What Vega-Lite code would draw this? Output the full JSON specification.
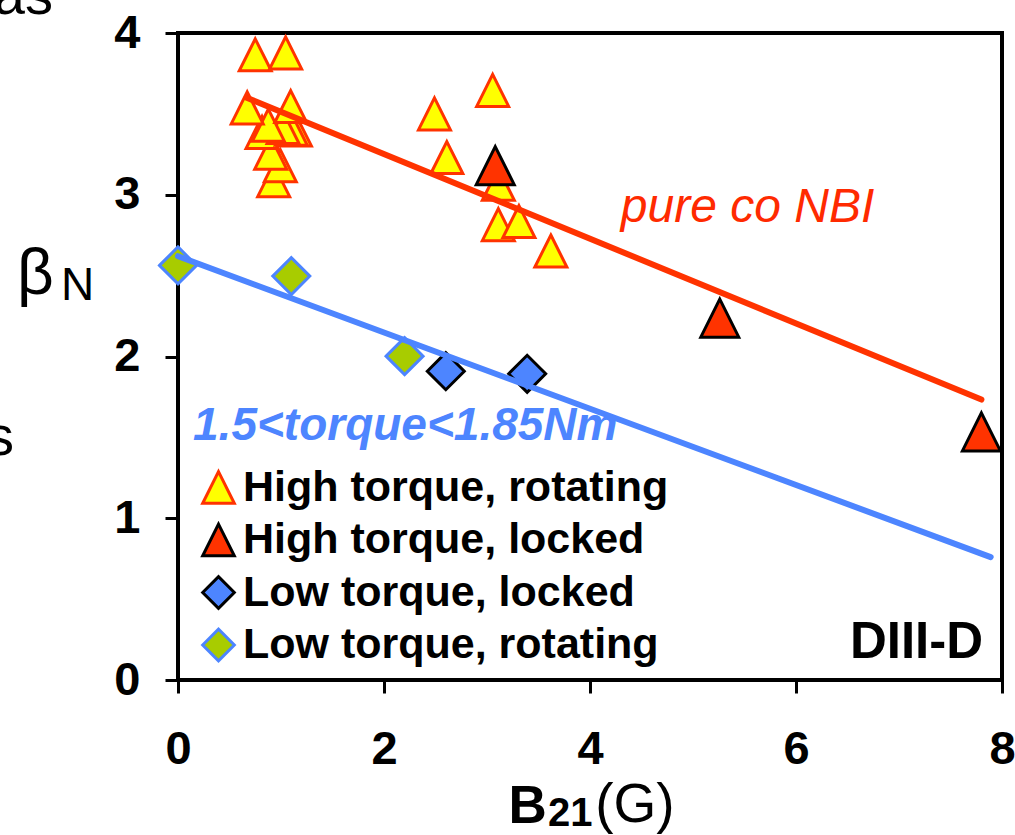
{
  "$schema": "https://vega.github.io/schema/vega-lite/v6.json",
  "width": 824,
  "height": 647,
  "autosize": {"type": "none"},
  "padding": {"left": 178, "top": 33, "right": 13, "bottom": 155},
  "background": "white",
  "config": {
    "font": "Liberation Sans",
    "view": {"stroke": "#000000", "strokeWidth": 4},
    "axis": {
      "grid": false,
      "domain": false,
      "ticks": true,
      "tickColor": "#000000",
      "tickWidth": 3,
      "tickSize": 13,
      "labelFlush": false,
      "labelFont": "Liberation Sans",
      "labelFontSize": 47,
      "labelFontWeight": "bold",
      "labelColor": "#000000",
      "titleFont": "Liberation Sans",
      "titleColor": "#000000"
    },
    "legend": {
      "orient": "none",
      "legendX": 19,
      "legendY": 433,
      "padding": 0,
      "labelFont": "Liberation Sans",
      "labelFontSize": 43,
      "labelFontWeight": "bold",
      "labelColor": "#000000",
      "labelOffset": 3,
      "rowPadding": 7.5,
      "symbolSize": 1000,
      "symbolStrokeWidth": 3,
      "symbolOpacity": 1,
      "labelLimit": 600
    }
  },
  "datasets": {
    "pts": [
      {"group": "High torque, rotating", "b21": 0.929, "betaN": 3.087},
      {"group": "High torque, rotating", "b21": 0.993, "betaN": 3.18},
      {"group": "High torque, rotating", "b21": 0.90, "betaN": 3.257},
      {"group": "High torque, rotating", "b21": 0.816, "betaN": 3.385},
      {"group": "High torque, rotating", "b21": 1.14, "betaN": 3.40},
      {"group": "High torque, rotating", "b21": 1.10, "betaN": 3.405},
      {"group": "High torque, rotating", "b21": 1.02, "betaN": 3.415},
      {"group": "High torque, rotating", "b21": 0.877, "betaN": 3.43},
      {"group": "High torque, rotating", "b21": 0.672, "betaN": 3.537},
      {"group": "High torque, rotating", "b21": 1.094, "betaN": 3.545},
      {"group": "High torque, rotating", "b21": 0.75, "betaN": 3.865},
      {"group": "High torque, rotating", "b21": 1.045, "betaN": 3.877},
      {"group": "High torque, rotating", "b21": 3.62, "betaN": 2.652},
      {"group": "High torque, rotating", "b21": 3.11, "betaN": 2.815},
      {"group": "High torque, rotating", "b21": 3.31, "betaN": 2.834},
      {"group": "High torque, rotating", "b21": 3.11, "betaN": 3.065},
      {"group": "High torque, rotating", "b21": 2.61, "betaN": 3.23},
      {"group": "High torque, rotating", "b21": 2.49, "betaN": 3.50},
      {"group": "High torque, rotating", "b21": 3.055, "betaN": 3.645},
      {"group": "High torque, locked", "b21": 3.08, "betaN": 3.18},
      {"group": "High torque, locked", "b21": 5.26, "betaN": 2.237},
      {"group": "High torque, locked", "b21": 7.80, "betaN": 1.534},
      {"group": "Low torque, rotating", "b21": 0.0, "betaN": 2.563},
      {"group": "Low torque, rotating", "b21": 1.10, "betaN": 2.497},
      {"group": "Low torque, rotating", "b21": 2.20, "betaN": 2.002},
      {"group": "Low torque, locked", "b21": 2.60, "betaN": 1.909},
      {"group": "Low torque, locked", "b21": 3.39, "betaN": 1.893}
    ],
    "fits": [
      {"fit": "co", "b21": 0.667, "betaN": 3.60},
      {"fit": "co", "b21": 7.80, "betaN": 1.734},
      {"fit": "low", "b21": 0.0, "betaN": 2.62},
      {"fit": "low", "b21": 7.89, "betaN": 0.76}
    ]
  },
  "encoding": {
    "x": {
      "field": "b21",
      "type": "quantitative",
      "scale": {"domain": [0, 8], "nice": false, "zero": false},
      "axis": {
        "values": [0, 2, 4, 6, 8],
        "labelPadding": 33,
        "title": "B",
        "titleFontSize": 53,
        "titleFontWeight": "bold",
        "titleAlign": "left",
        "titleAnchor": "start",
        "titleBaseline": "alphabetic",
        "titleX": 330,
        "titleY": 142
      }
    },
    "y": {
      "field": "betaN",
      "type": "quantitative",
      "scale": {"domain": [0, 4], "nice": false, "zero": false},
      "axis": {
        "values": [0, 1, 2, 3, 4],
        "labelPadding": 25,
        "title": "β",
        "titleAngle": 0,
        "titleFontSize": 64,
        "titleFontWeight": "normal",
        "titleAlign": "center",
        "titleBaseline": "alphabetic",
        "titleX": -143,
        "titleY": 260
      }
    },
    "fill": {
      "field": "group",
      "type": "nominal",
      "title": null,
      "scale": {
        "domain": ["High torque, rotating", "High torque, locked", "Low torque, locked", "Low torque, rotating"],
        "range": ["#FFFF00", "#FF3300", "#4D85FF", "#A8CC00"]
      }
    },
    "stroke": {
      "field": "group",
      "type": "nominal",
      "title": null,
      "scale": {
        "domain": ["High torque, rotating", "High torque, locked", "Low torque, locked", "Low torque, rotating"],
        "range": ["#FF3300", "#000000", "#000000", "#4D85FF"]
      }
    },
    "shape": {
      "field": "group",
      "type": "nominal",
      "title": null,
      "scale": {
        "domain": ["High torque, rotating", "High torque, locked", "Low torque, locked", "Low torque, rotating"],
        "range": ["M0,-1L1,1L-1,1Z", "M0,-1L1,1L-1,1Z", "diamond", "diamond"]
      }
    }
  },
  "layer": [
    {
      "data": {"name": "pts"},
      "transform": [{"filter": "datum.group === 'High torque, rotating'"}],
      "mark": {"type": "point", "filled": true, "strokeWidth": 3, "opacity": 1, "size": 1024, "clip": false}
    },
    {
      "data": {"name": "pts"},
      "transform": [{"filter": "datum.group === 'High torque, locked'"}],
      "mark": {"type": "point", "filled": true, "strokeWidth": 3, "opacity": 1, "size": 1444, "clip": false}
    },
    {
      "data": {"name": "pts"},
      "transform": [{"filter": "datum.group === 'Low torque, locked' || datum.group === 'Low torque, rotating'"}],
      "mark": {"type": "point", "filled": true, "strokeWidth": 3, "opacity": 1, "size": 1369, "clip": false}
    },
    {
      "data": {"name": "fits"},
      "transform": [{"filter": "datum.fit === 'co'"}],
      "mark": {"type": "line", "color": "#FF3300", "strokeWidth": 6, "strokeCap": "round"},
      "encoding": {"fill": null, "stroke": null, "shape": null}
    },
    {
      "data": {"name": "fits"},
      "transform": [{"filter": "datum.fit === 'low'"}],
      "mark": {"type": "line", "color": "#4D85FF", "strokeWidth": 6, "strokeCap": "round"},
      "encoding": {"fill": null, "stroke": null, "shape": null}
    },
    {
      "data": {"values": [{"b21": 5.53, "betaN": 2.83, "label": "pure co NBI"}]},
      "mark": {"type": "text", "align": "center", "baseline": "alphabetic", "font": "Liberation Sans", "fontSize": 48, "fontStyle": "italic", "color": "#FF2A00"},
      "encoding": {"text": {"field": "label"}, "fill": null, "stroke": null, "shape": null}
    },
    {
      "data": {"values": [{"b21": 0.146, "betaN": 1.486, "label": "1.5<torque<1.85Nm"}]},
      "mark": {"type": "text", "align": "left", "baseline": "alphabetic", "font": "Liberation Sans", "fontSize": 46, "fontStyle": "italic", "fontWeight": "bold", "color": "#4D85FF"},
      "encoding": {"text": {"field": "label"}, "fill": null, "stroke": null, "shape": null}
    },
    {
      "data": {"values": [{"b21": 7.816, "betaN": 0.136, "label": "DIII-D"}]},
      "mark": {"type": "text", "align": "right", "baseline": "alphabetic", "font": "Liberation Sans", "fontSize": 51, "fontWeight": "bold", "color": "#000000"},
      "encoding": {"text": {"field": "label"}, "fill": null, "stroke": null, "shape": null}
    },
    {
      "data": {"values": [{"b21": -1.136, "betaN": 2.347, "label": "N"}]},
      "mark": {"type": "text", "align": "left", "baseline": "alphabetic", "font": "Liberation Sans", "fontSize": 46, "color": "#000000"},
      "encoding": {"text": {"field": "label"}, "fill": null, "stroke": null, "shape": null}
    },
    {
      "data": {"values": [{"b21": 3.592, "betaN": -0.904, "label": "21"}]},
      "mark": {"type": "text", "align": "left", "baseline": "alphabetic", "font": "Liberation Sans", "fontSize": 40, "fontWeight": "bold", "color": "#000000"},
      "encoding": {"text": {"field": "label"}, "fill": null, "stroke": null, "shape": null}
    },
    {
      "data": {"values": [{"b21": 4.05, "betaN": -0.879, "label": "(G)"}]},
      "mark": {"type": "text", "align": "left", "baseline": "alphabetic", "font": "Liberation Sans", "fontSize": 55, "color": "#000000"},
      "encoding": {"text": {"field": "label"}, "fill": null, "stroke": null, "shape": null}
    },
    {
      "data": {"values": [{"b21": -1.214, "betaN": 4.118, "label": "as"}, {"b21": -1.592, "betaN": 1.393, "label": "s"}]},
      "mark": {"type": "text", "align": "right", "baseline": "alphabetic", "font": "Liberation Sans", "fontSize": 56, "color": "#000000"},
      "encoding": {"text": {"field": "label"}, "fill": null, "stroke": null, "shape": null}
    }
  ]
}
